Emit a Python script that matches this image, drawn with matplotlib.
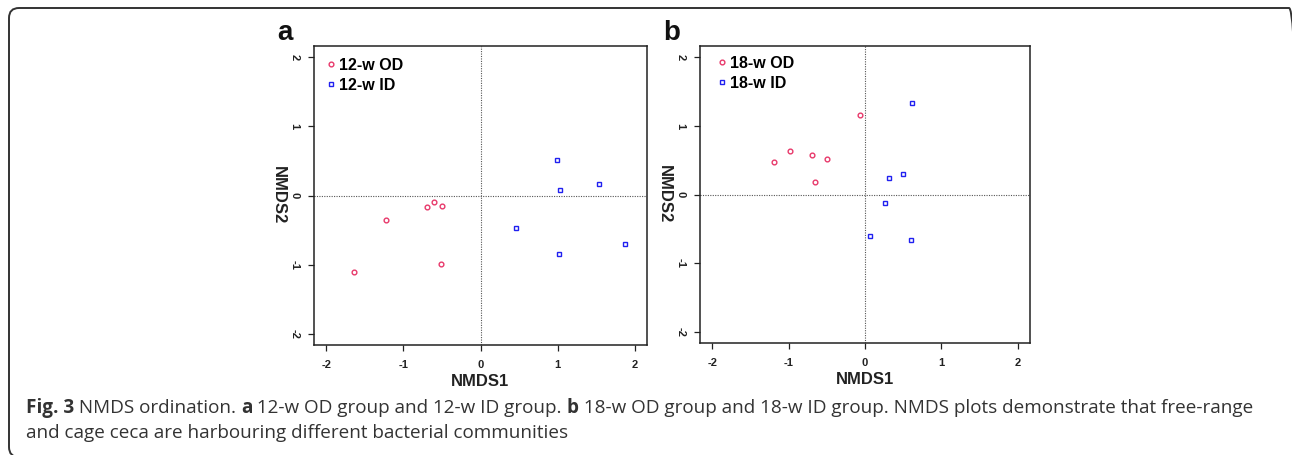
import matplotlib.pyplot as plt
from matplotlib.patches import FancyBboxPatch

# NMDS scores
a_od_x = [-1.64, -1.23, -0.69, -0.60, -0.50, -0.51]
a_od_y = [-1.11, -0.35, -0.16, -0.09, -0.15, -0.99]
a_id_x = [0.99, 1.03, 1.54, 0.46, 1.02, 1.87]
a_id_y = [0.51, 0.08, 0.17, -0.47, -0.84, -0.70]

b_od_x = [-1.19, -0.98, -0.69, -0.50, -0.66, -0.07]
b_od_y = [0.48, 0.63, 0.58, 0.51, 0.18, 1.16]
b_id_x = [0.62, 0.50, 0.31, 0.26, 0.06, 0.60]
b_id_y = [1.33, 0.30, 0.24, -0.13, -0.60, -0.66]

ticks = [-2, -1, 0, 1, 2]
tick_labels = ['-2', '-1', '0', '1', '2']

W, H = 1292, 455
fig = plt.figure(figsize=(W / 100, H / 100), dpi=100)
plt.rcParams['font.family'] = ['Liberation Sans', 'DejaVu Sans']

pink = '#e8386a'
blue = '#2020f0'


def panel(rect, odx, ody, idx, idy, labs, letter, leg_anchor):
    ax = fig.add_axes(rect)
    ax.axhline(0, color='#555555', ls=(0, (1, 1.2)), lw=0.8, zorder=1)
    ax.axvline(0, color='#555555', ls=(0, (1, 1.2)), lw=0.8, zorder=1)
    ax.plot(odx, ody, 'o', ms=3.4, mfc='none', mec=pink, mew=1.0, label=labs[0])
    ax.plot(idx, idy, 's', ms=3.2, mfc='none', mec=blue, mew=1.0, label=labs[1])
    ax.set_xlim(-2.16, 2.16)
    ax.set_ylim(-2.16, 2.16)
    ax.set_xticks(ticks)
    ax.set_xticklabels(tick_labels, fontsize=8, fontweight='bold', color='#222222')
    ax.set_yticks(ticks)
    ax.set_yticklabels(tick_labels, fontsize=8, fontweight='bold', color='#222222',
                       rotation=270, va='center')
    ax.tick_params(direction='out', length=4.5, width=0.9, color='#222222', pad=6)
    for s in ax.spines.values():
        s.set_linewidth(1.1)
        s.set_color('#222222')
    ax.set_xlabel('NMDS1', fontsize=12, fontweight='bold', color='#222222', labelpad=3)
    ax.set_ylabel('NMDS2', fontsize=12, fontweight='bold', color='#222222',
                  rotation=270, va='center', labelpad=8)
    ax.legend(loc='upper left', bbox_to_anchor=leg_anchor, frameon=False,
              handlelength=0.5, handletextpad=0.25, labelspacing=0.3,
              borderaxespad=0, prop={'weight': 'bold', 'size': 11.5})
    ax.text(-0.11, 1.0, letter, transform=ax.transAxes, fontsize=20,
            fontweight='bold', va='bottom', ha='left', color='#111111')
    return ax


panel([314 / W, 1 - 345 / H, 333 / W, 299 / H], a_od_x, a_od_y, a_id_x, a_id_y,
      ['12-w OD', '12-w ID'], 'a', (0.02, 0.982))
panel([700 / W, 1 - 343 / H, 330 / W, 297 / H], b_od_x, b_od_y, b_id_x, b_id_y,
      ['18-w OD', '18-w ID'], 'b', (0.035, 0.988))

# rounded border around the figure, bottom and right run just off the image
x0, y0, x1, y1 = 9, 8, 1299, 457
box = FancyBboxPatch((x0, H - y1), x1 - x0, y1 - y0,
                     boxstyle='round,pad=0,rounding_size=10',
                     transform=None, fill=False, ec='#333333', lw=1.4)
fig.patches.append(box)

# caption with bold pieces
line1 = [("Fig. 3", 'bold'), (" NMDS ordination. ", 'normal'), ("a", 'bold'),
         (" 12-w OD group and 12-w ID group. ", 'normal'), ("b", 'bold'),
         (" 18-w OD group and 18-w ID group. NMDS plots demonstrate that free-range", 'normal')]
line2 = [("and cage ceca are harbouring different bacterial communities", 'normal')]

renderer = fig.canvas.get_renderer()
for segs, base in [(line1, 413), (line2, 438)]:
    x = 26
    for txt, wt in segs:
        t = fig.text(x / W, 1 - base / H, txt, fontsize=13.6, fontweight=wt,
                     family='Open Sans', color='#333333', va='baseline', ha='left')
        bb = t.get_window_extent(renderer)
        x += bb.width

fig.savefig('out.png', dpi=100)
